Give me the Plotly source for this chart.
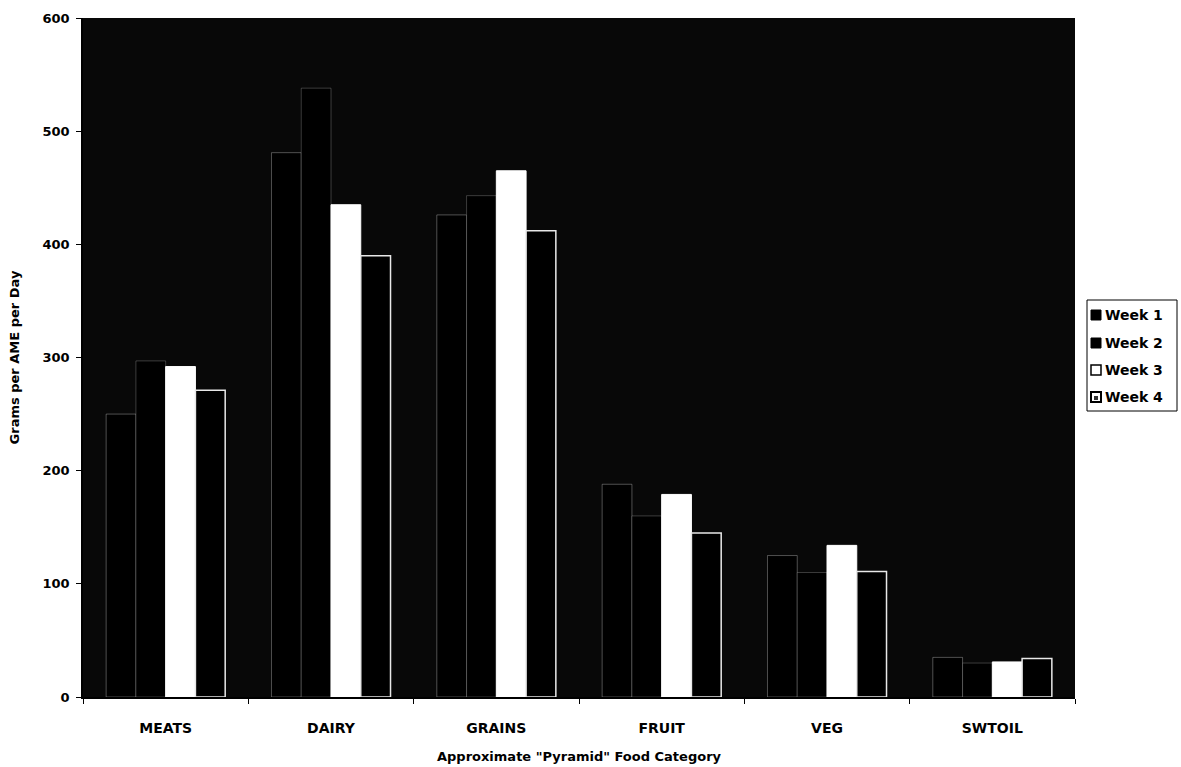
import plotly.graph_objects as go

categories = ["MEATS", "DAIRY", "GRAINS", "FRUIT", "VEG", "SWTOIL"]
week1 = [250, 481, 426, 188, 125, 35]
week2 = [297, 538, 443, 160, 110, 30]
week3 = [292, 435, 465, 179, 134, 31]
week4 = [271, 390, 412, 145, 111, 34]
series_names = ["Week 1", "Week 2", "Week 3", "Week 4"]
y_ticks = [0, 100, 200, 300, 400, 500, 600]

FONT = "DejaVu Sans, Liberation Sans, Arial, sans-serif"
fills = ["#000000", "#000000", "#ffffff", "#000000"]
lines = ["rgba(255,255,255,0.30)", "rgba(255,255,255,0.22)", "#ffffff", "#e8e8e8"]
widths = [1, 1, 1, 1.5]

W, H = 1181, 767
L, R, T, B = 83, 106, 18, 70
pw, ph = W - L - R, H - T - B

fig = go.Figure()
for name, vals, fc, lc, lw in zip(series_names, [week1, week2, week3, week4], fills, lines, widths):
    fig.add_trace(go.Bar(
        x=categories, y=vals, name=name, showlegend=False,
        marker=dict(color=fc, line=dict(color=lc, width=lw)),
    ))

# manual legend (layout decoration)
def px_x(p):
    return (p - L) / pw

def px_y(p):
    return (H - B - p) / ph

shapes = [dict(type="rect", xref="paper", yref="paper",
               x0=px_x(1087), x1=px_x(1177), y0=px_y(411), y1=px_y(300),
               line=dict(color="#000000", width=1), fillcolor="#ffffff", layer="above")]
annotations = []
row_y = [315, 343, 370, 397]
for i, (name, ry) in enumerate(zip(series_names, row_y)):
    if i < 2:
        shapes.append(dict(type="rect", xref="paper", yref="paper",
                           x0=px_x(1091), x1=px_x(1101), y0=px_y(ry + 5), y1=px_y(ry - 5),
                           line=dict(color="#000000", width=1), fillcolor="#000000", layer="above"))
    elif i == 2:
        shapes.append(dict(type="rect", xref="paper", yref="paper",
                           x0=px_x(1091), x1=px_x(1101), y0=px_y(ry + 5), y1=px_y(ry - 5),
                           line=dict(color="#000000", width=1.5), fillcolor="#ffffff", layer="above"))
    else:
        shapes.append(dict(type="rect", xref="paper", yref="paper",
                           x0=px_x(1091), x1=px_x(1101), y0=px_y(ry + 5), y1=px_y(ry - 5),
                           line=dict(color="#000000", width=2), fillcolor="#ffffff", layer="above"))
        shapes.append(dict(type="rect", xref="paper", yref="paper",
                           x0=px_x(1094), x1=px_x(1098), y0=px_y(ry + 3), y1=px_y(ry - 1),
                           line=dict(color="#000000", width=0), fillcolor="#333333", layer="above"))
    annotations.append(dict(xref="paper", yref="paper", x=px_x(1103), y=px_y(ry),
                            xanchor="left", yanchor="middle", showarrow=False,
                            text="<b>%s</b>" % name,
                            font=dict(family=FONT, size=14, color="#000000")))

fig.update_layout(
    width=W, height=H,
    margin=dict(l=L, r=R, t=T, b=B),
    paper_bgcolor="#ffffff",
    plot_bgcolor="#080808",
    barmode="group",
    bargap=0.28,
    bargroupgap=0.0,
    font=dict(family=FONT, size=13, color="#000000"),
    showlegend=False,
    shapes=shapes,
    annotations=annotations,
    xaxis=dict(
        showgrid=False, showline=True, linecolor="#000000", linewidth=1.5,
        ticks="outside", tickson="boundaries", ticklen=5, tickcolor="#000000",
        ticklabelstandoff=17,
        tickfont=dict(family=FONT, size=14, color="#000000"),
        title=dict(text="<b>Approximate \"Pyramid\" Food Category</b>",
                   font=dict(family=FONT, size=13, color="#000000"),
                   standoff=17),
        tickvals=categories,
        ticktext=["<b>%s</b>" % c for c in categories],
        automargin=False,
    ),
    yaxis=dict(
        range=[0, 600], tickvals=y_ticks, ticktext=["<b>%d</b>" % v for v in y_ticks],
        showgrid=False, showline=True, linecolor="#000000", linewidth=1.5,
        ticks="outside", ticklen=5, tickcolor="#000000", zeroline=False,
        ticklabelstandoff=4,
        tickfont=dict(family=FONT, size=13, color="#000000"),
        title=dict(text="<b>Grams per AME per Day</b>",
                   font=dict(family=FONT, size=13, color="#000000"),
                   standoff=20),
        automargin=False,
    ),
)

fig.write_html("out.html")
